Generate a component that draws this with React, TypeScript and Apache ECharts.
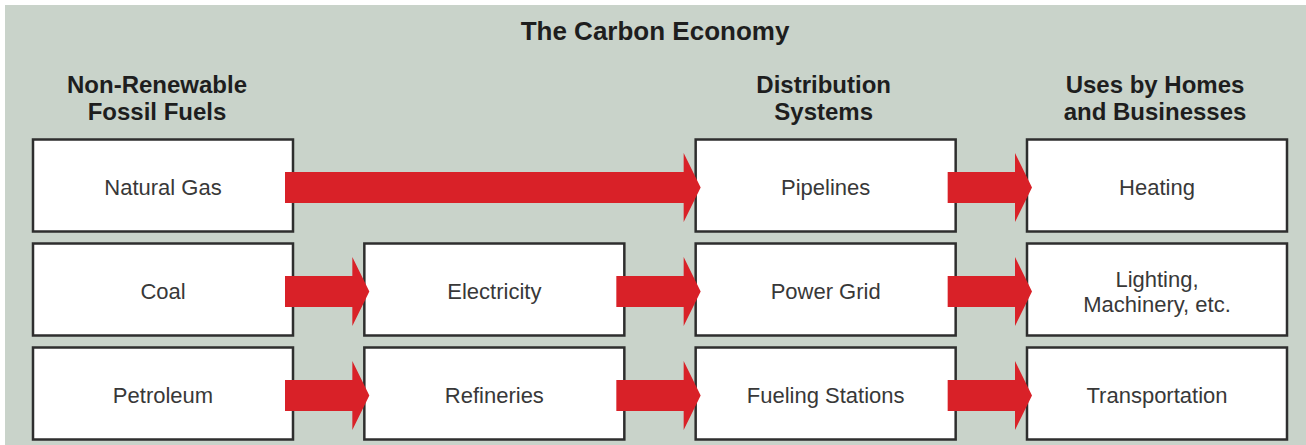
import React, { useEffect, useRef } from "react";
import * as echarts from "echarts";

const TITLE = "The Carbon Economy";

// Column headers: [column index, text]
const headerCols = [0, 2, 3];
const headerTexts = ["Non-Renewable\nFossil Fuels", "Distribution\nSystems", "Uses by Homes\nand Businesses"];

// Boxes: column, row, label
const boxCols = [0, 0, 0, 1, 1, 2, 2, 2, 3, 3, 3];
const boxRows = [0, 1, 2, 1, 2, 0, 1, 2, 0, 1, 2];
const boxLabels = [
  "Natural Gas",
  "Coal",
  "Petroleum",
  "Electricity",
  "Refineries",
  "Pipelines",
  "Power Grid",
  "Fueling Stations",
  "Heating",
  "Lighting,\nMachinery, etc.",
  "Transportation",
];

// Arrows: from column -> to column, on a row
const arrowFrom = [0, 0, 1, 2, 0, 1, 2, 2];
const arrowTo = [2, 1, 2, 3, 1, 2, 3, 3];
const arrowRow = [0, 1, 1, 1, 2, 2, 2, 0];

const BG = "#c9d3ca";
const RED = "#d92128";
const BORDER = "#2e2e2e";
const FONT = "'Liberation Sans', Arial, Helvetica, sans-serif";

// Layout (pixels)
const BOX_W = 260;
const BOX_H = 92;

export default function App() {
  const ref = useRef<HTMLDivElement>(null);

  useEffect(() => {
    if (!ref.current) return;
    const chart = echarts.init(ref.current, null, { renderer: "svg" });

    const boxData = boxLabels.map((_, i) => [boxCols[i], boxRows[i]]);
    const arrowData = arrowFrom.map((f, i) => [f, arrowTo[i], arrowRow[i]]);
    const headerData = headerCols.map((c) => [c, 0]);

    chart.setOption({
      animation: false,
      backgroundColor: "#ffffff",
      title: {
        text: TITLE,
        left: 650,
        textAlign: "center",
        top: 13,
        textStyle: { fontFamily: FONT, fontSize: 26, fontWeight: "bold", color: "#1e1e1e" },
      },
      graphic: [
        {
          type: "rect",
          z: -10,
          shape: { x: 5, y: 5, width: 1301, height: 440 },
          style: { fill: BG },
          silent: true,
        },
      ],
      grid: { left: 163, right: 149, top: 185.5, bottom: 51.5, containLabel: false },
      xAxis: { type: "value", min: 0, max: 3, show: false },
      yAxis: { type: "value", min: 0, max: 2, inverse: true, show: false },
      series: [
        {
          type: "custom",
          coordinateSystem: "cartesian2d",
          data: boxData,
          z: 2,
          renderItem: (params: any, api: any) => {
            const c = api.coord([api.value(0), api.value(1)]);
            const label = boxLabels[params.dataIndex];
            return {
              type: "group",
              children: [
                {
                  type: "rect",
                  shape: { x: c[0] - BOX_W / 2, y: c[1] - BOX_H / 2, width: BOX_W, height: BOX_H },
                  style: { fill: "#ffffff", stroke: BORDER, lineWidth: 2.5 },
                },
                {
                  type: "text",
                  x: c[0],
                  y: c[1] + 2,
                  style: {
                    text: label,
                    fill: "#383838",
                    font: `22px ${FONT}`,
                    align: "center",
                    verticalAlign: "middle",
                    lineHeight: 25,
                  },
                },
              ],
            };
          },
        },
        {
          type: "custom",
          coordinateSystem: "cartesian2d",
          data: headerData,
          z: 2,
          renderItem: (params: any, api: any) => {
            const c = api.coord([api.value(0), api.value(1)]);
            return {
              type: "text",
              x: c[0] - (api.value(0) === 0 ? 6 : 2),
              y: c[1] - BOX_H / 2 - 42,
              style: {
                text: headerTexts[params.dataIndex],
                fill: "#1e1e1e",
                font: `bold 24px ${FONT}`,
                align: "center",
                verticalAlign: "middle",
                lineHeight: 27,
              },
            };
          },
        },
        {
          type: "custom",
          coordinateSystem: "cartesian2d",
          data: arrowData,
          z: 5,
          renderItem: (params: any, api: any) => {
            const a = api.coord([api.value(0), api.value(2)]);
            const b = api.coord([api.value(1), api.value(2)]);
            const x0 = a[0] + BOX_W / 2 - 8;
            const tip = b[0] - BOX_W / 2 + 5;
            const headStart = tip - 17;
            const y = a[1] + 2;
            const sh = 15.5;
            const hh = 34.5;
            return {
              type: "polygon",
              shape: {
                points: [
                  [x0, y - sh],
                  [headStart, y - sh],
                  [headStart, y - hh],
                  [tip, y],
                  [headStart, y + hh],
                  [headStart, y + sh],
                  [x0, y + sh],
                ],
              },
              style: { fill: RED },
            };
          },
        },
      ],
    });

    return () => chart.dispose();
  }, []);

  return (
    <div
      ref={ref}
      style={{ position: "absolute", left: 0, top: 0, width: 1306, height: 445 }}
    />
  );
}
